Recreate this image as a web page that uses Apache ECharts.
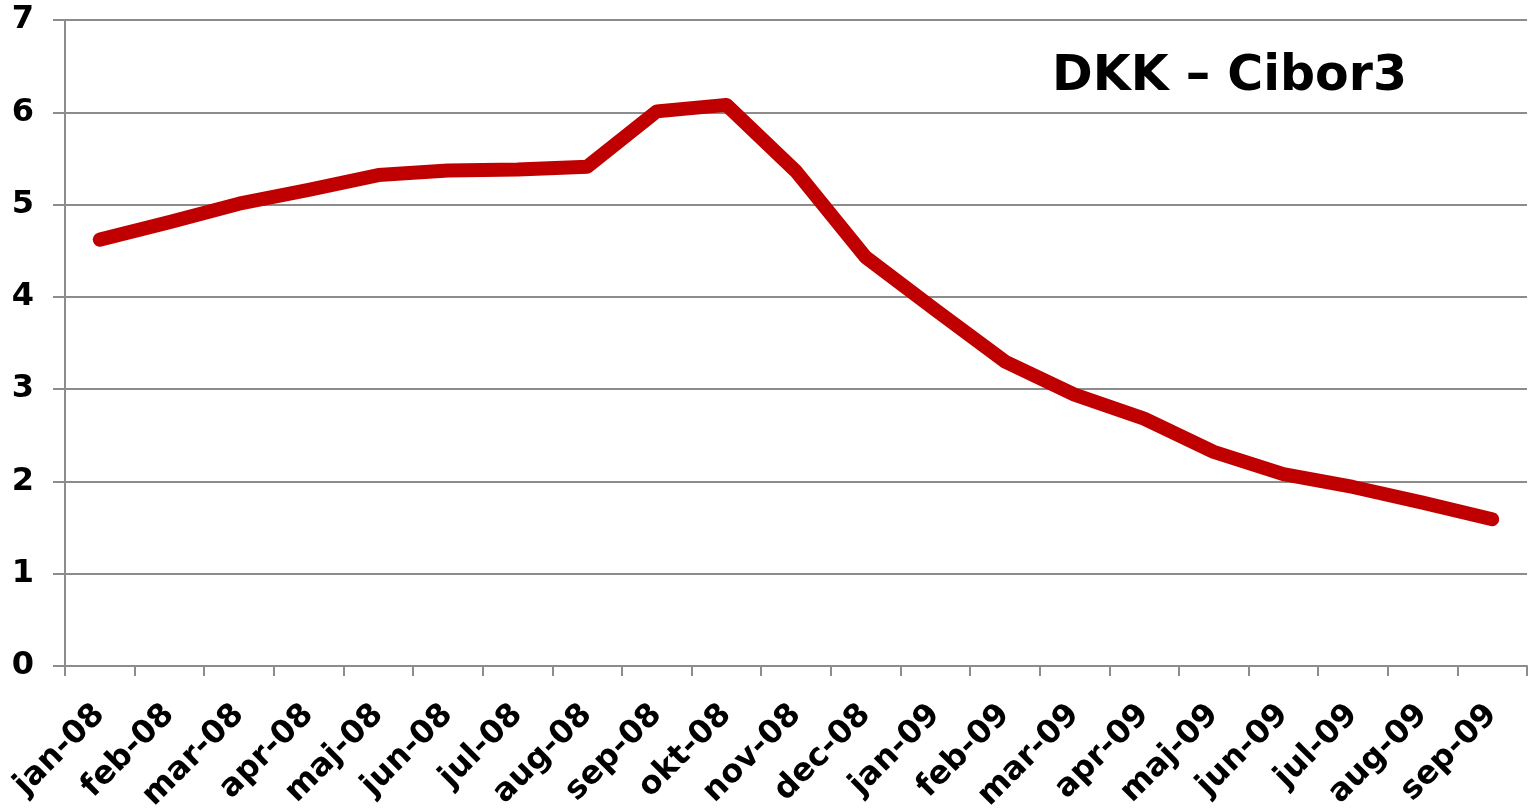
<!DOCTYPE html>
<html>
<head>
<meta charset="utf-8">
<script src="https://cdn.jsdelivr.net/npm/echarts@6/dist/echarts.min.js"></script>
<style>
html,body{margin:0;padding:0;background:#fff;}
#chart{width:1529px;height:809px;}
</style>
</head>
<body>
<div id="chart"></div>
<script>
const categories = ['jan-08','feb-08','mar-08','apr-08','maj-08','jun-08','jul-08','aug-08','sep-08','okt-08','nov-08','dec-08','jan-09','feb-09','mar-09','apr-09','maj-09','jun-09','jul-09','aug-09','sep-09'];
const cibor3 = [4.62,4.81,5.01,5.16,5.32,5.37,5.38,5.41,6.01,6.08,5.36,4.43,3.86,3.30,2.94,2.68,2.32,2.08,1.94,1.77,1.59];
const yTicks = [0,1,2,3,4,5,6,7];
const titleText = 'DKK \u2013 Cibor3';

const chart = echarts.init(document.getElementById('chart'));
const font = '"DejaVu Sans", Verdana, sans-serif';
chart.setOption({
  animation: false,
  backgroundColor: '#fff',
  title: {
    text: titleText,
    left: 1047,
    top: 48,
    textStyle: {fontFamily: font, fontWeight: 'bold', fontSize: 49, color: '#000'}
  },
  grid: {left: 65, right: 2, top: 20, bottom: 143, containLabel: false, outerBoundsMode: 'none'},
  xAxis: {
    type: 'category',
    data: categories,
    boundaryGap: true,
    axisLine: {show: true, lineStyle: {color: '#8c8c8c', width: 2}},
    axisTick: {show: true, alignWithLabel: false, length: 10, lineStyle: {color: '#8c8c8c', width: 2}},
    axisLabel: {rotate: 45, interval: 0, margin: 44, fontFamily: font, fontWeight: 'bold', fontSize: 32, color: '#000'},
    splitLine: {show: false}
  },
  yAxis: {
    type: 'value',
    min: yTicks[0],
    max: yTicks[yTicks.length - 1],
    interval: 1,
    axisLine: {show: true, lineStyle: {color: '#8c8c8c', width: 2}},
    axisTick: {show: true, length: 12, lineStyle: {color: '#8c8c8c', width: 2}},
    axisLabel: {margin: 31, fontFamily: font, fontWeight: 'bold', fontSize: 32, color: '#000'},
    splitLine: {show: true, lineStyle: {color: '#8c8c8c', width: 2}}
  },
  series: [{
    type: 'line',
    data: cibor3,
    symbol: 'none',
    lineStyle: {color: '#c00000', width: 14, cap: 'round', join: 'round'},
    z: 3
  }]
});
</script>
</body>
</html>
